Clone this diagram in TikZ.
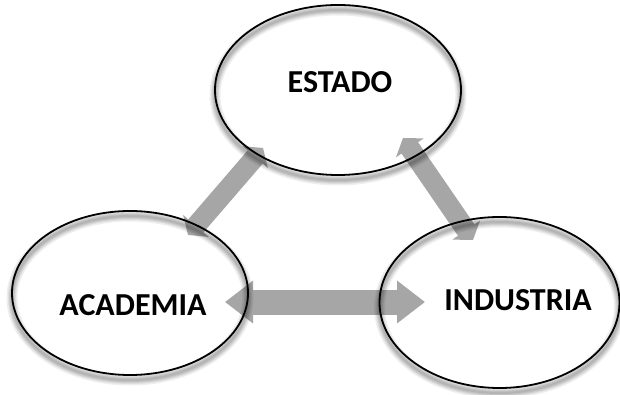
\documentclass[tikz,border=0pt]{standalone}
\usepackage{fontspec}
\setmainfont{Carlito}
\usetikzlibrary{shapes.geometric,arrows.meta}
\definecolor{arrowgray}{HTML}{A6A6A6}
\tikzset{
  bubble/.style={ellipse, draw=black, line width=1.8pt, inner sep=0pt},
  label/.style={font=\fontsize{32}{38}\selectfont\bfseries, inner sep=0pt},
  bigarrow/.style={draw=arrowgray, line width=25pt,
    {Triangle[length=28pt,width=41pt]}-{Triangle[length=28pt,width=41pt]}},
  smallarrow/.style={draw=arrowgray, line width=20pt,
    {Triangle[length=12pt,width=33pt]}-{Triangle[length=12pt,width=33pt]}},
  shadowline/.style={draw=black, opacity=0.065}
}
\begin{document}
\begin{tikzpicture}[x=1pt,y=-1pt]
\useasboundingbox (0,0) rectangle (620,395);
\fill[white] (0,0) rectangle (620,395);
% connector end points
\coordinate (aE) at (188,235);
\coordinate (eA) at (263,148);
\coordinate (eI) at (403,138);
\coordinate (iE) at (473,240);
\coordinate (aI) at (225,302);
\coordinate (iA) at (425,302);
% arrows
\draw[smallarrow] (aE) -- (eA);
\draw[smallarrow] (eI) -- (iE);
\draw[bigarrow] (aI) -- (iA);
% shadows
\foreach \cx/\cy/\rx/\ry in {338/90/123/85, 130/293/118/82, 499.5/302.5/120/85.5}{
  \foreach \w in {11,8,6,4,2}{
    \draw[shadowline, line width=\w pt] (\cx,\cy+5) ellipse [x radius=\rx, y radius=\ry];
  }
}
% ellipses
\node[bubble, minimum width=246pt, minimum height=170pt] (estado) at (338,90) {};
\node[bubble, minimum width=236pt, minimum height=164pt] (academia) at (130,293) {};
\node[bubble, minimum width=240pt, minimum height=171pt] (industria) at (499.5,302.5) {};
% labels
\node[label] (testado) at (340,82) {ESTADO};
\node[label] (tacademia) at (133,305) {ACADEMIA};
\node[label] (tindustria) at (518,300) {INDUSTRIA};
\end{tikzpicture}
\end{document}
